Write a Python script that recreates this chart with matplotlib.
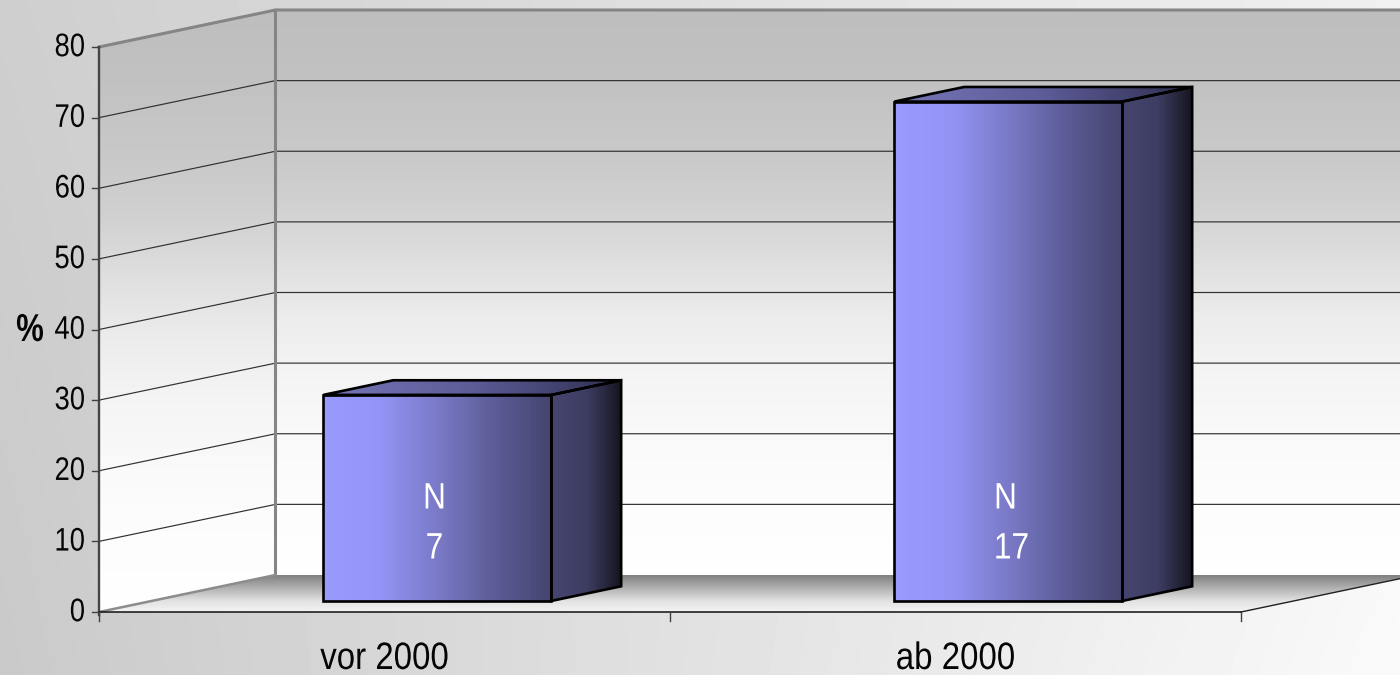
import numpy as np
import matplotlib
matplotlib.use("Agg")
import matplotlib.pyplot as plt
from matplotlib.colors import LinearSegmentedColormap as LSC
from matplotlib.patches import Polygon
from matplotlib.patheffects import AbstractPathEffect
from matplotlib.transforms import Affine2D

categories = ["vor 2000", "ab 2000"]
values = [29.17, 70.7]
n_labels = ["7", "17"]
y_ticks = [0, 10, 20, 30, 40, 50, 60, 70, 80]

plt.rcParams["font.family"] = ["Liberation Sans", "DejaVu Sans"]

W, H = 1400, 675
PX_Y = (612 - 47) / 80      # pixels per percent
PX_X = 571                  # pixels per category
X0, Y0 = 99, 612            # pixel of the origin
fig = plt.figure(figsize=(W / 100, H / 100), dpi=100)
ax = fig.add_axes([0, 0, 1, 1])
ax.set_axis_off()
xlim = (-X0 / PX_X, (W - X0) / PX_X)
ylim = ((Y0 - H) / PX_Y, Y0 / PX_Y)
ax.set_xlim(*xlim)
ax.set_ylim(*ylim)
ax.set_autoscale_on(False)

DX, DY = 176.5 / PX_X, 37 / PX_Y   # depth offset in data units
NC = len(categories)


class Narrow(AbstractPathEffect):
    """Squeeze a text horizontally about the x pixel cx."""
    def __init__(self, cx, factor):
        super().__init__()
        self.cx, self.factor = cx, factor

    def draw_path(self, renderer, gc, tpath, affine, rgbFace=None):
        a = affine + Affine2D().translate(-self.cx, 0).scale(self.factor, 1).translate(self.cx, 0)
        renderer.draw_path(gc, tpath, a, rgbFace)


def label(x, y, s, factor, **kw):
    t = ax.text(x, y, s, **kw)
    cx = ax.transData.transform((x, y))[0]
    t.set_path_effects([Narrow(cx, factor)])
    return t


def dep(x, y, d):
    return (x + d * DX, y + d * DY)


def grad(colors, extent, poly, horizontal, z):
    cm = LSC.from_list("g", colors, N=512)
    t = np.linspace(0, 1, 512)
    arr = t[None, :] if horizontal else t[:, None]
    im = ax.imshow(arr, cmap=cm, vmin=0, vmax=1, extent=extent, origin="lower",
                   aspect="auto", interpolation="bilinear", zorder=z)
    p = Polygon(poly, closed=True, transform=ax.transData, fc="none", ec="none")
    ax.add_patch(p)
    im.set_clip_path(p)


# figure background
XX, YY = np.meshgrid(np.linspace(0, 1, 400), np.linspace(0, 1, 200))
shade = (0.79 + 0.19 * XX) * (1 - YY) + (0.81 + 0.13 * XX) * YY
ax.imshow(shade, cmap="gray", vmin=0, vmax=1, extent=(*xlim, *ylim), origin="lower",
          aspect="auto", interpolation="bilinear", zorder=0)

top = y_ticks[-1]
# walls
wall_c = [(0, "#ffffff"), (.133, "#fdfdfd"), (.239, "#fafafa"), (.345, "#f5f5f5"),
          (.451, "#ededed"), (.558, "#dfdfdf"), (.664, "#d0d0d0"), (.752, "#c9c9c9"),
          (.876, "#c2c2c2"), (1, "#bebebe")]
left_wall = [dep(0, 0, 0), dep(0, 0, 1), dep(0, top, 1), dep(0, top, 0)]
back_wall = [dep(0, 0, 1), dep(NC, 0, 1), dep(NC, top, 1), dep(0, top, 1)]
grad(wall_c, (xlim[0], xlim[1], 0, top + DY), left_wall, False, 1)
grad(wall_c, (xlim[0], xlim[1], DY, top + DY), back_wall, False, 1)

# floor
floor = [dep(0, 0, 0), dep(NC, 0, 0), dep(NC, 0, 1), dep(0, 0, 1)]
grad([(0, "#f4f4f4"), (.3, "#e2e2e2"), (.7, "#aaaaaa"), (1, "#7f7f7f")],
     (xlim[0], xlim[1], 0, DY), floor, False, 2)

# gridlines
for v in y_ticks[1:-1]:
    a, b, c = dep(0, v, 0), dep(0, v, 1), dep(NC, v, 1)
    ax.plot([a[0], b[0], c[0]], [a[1], b[1], c[1]], color="#303030", lw=0.85, zorder=3,
            solid_joinstyle="miter")

# wall frame
a, b, c, d = dep(0, top, 0), dep(0, top, 1), dep(NC, top, 1), dep(0, 0, 1)
ax.plot([a[0], b[0], c[0]], [a[1], b[1], c[1]], color="#858585", lw=2.2, zorder=4)
ax.plot([b[0], d[0]], [b[1], d[1]], color="#858585", lw=2.2, zorder=4)
e = dep(0, 0, 0)
ax.plot([e[0], d[0]], [e[1], d[1]], color="#8c8c8c", lw=1.8, zorder=4)
f, g = dep(NC, 0, 0), dep(NC, 0, 1)
ax.plot([f[0], g[0]], [f[1], g[1]], color="#202020", lw=1.0, zorder=4)

# axes lines and ticks
ax.plot([0, 0], [-3 / PX_Y, top], color="#454545", lw=1.7, zorder=5)
ax.plot([0, NC], [0, 0], color="#101010", lw=1.1, zorder=5)
for v in y_ticks:
    ax.plot([-7 / PX_X, 0], [v, v], color="#404040", lw=1.0, zorder=5)
    label(-14 / PX_X, v - 0.1, str(v), 0.84, ha="right", va="center", fontsize=23.5,
          color="#050505", zorder=6)
for i in range(NC + 1):
    ax.plot([i, i], [0, -9 / PX_Y], color="#404040", lw=1.0, zorder=5)

# bars
BW = 228 / PX_X
D0, D1 = 0.30, 0.695
for i, (v, cat, n) in enumerate(zip(values, categories, n_labels)):
    xc = i + 0.5
    x0 = xc - BW / 2
    x1 = xc + BW / 2
    p00 = dep(x0, 0, D0); p10 = dep(x1, 0, D0)
    p01 = dep(x0, v, D0); p11 = dep(x1, v, D0)
    q10 = dep(x1, 0, D1); q11 = dep(x1, v, D1); q01 = dep(x0, v, D1)
    z = 10 + i
    grad(["#9a9aff", "#9494f6", "#7a7ac8", "#5c5c98", "#45456f"],
         (p00[0], p10[0], p00[1], p01[1]), [p00, p10, p11, p01], True, z)
    grad(["#45456f", "#3e3e64", "#15151f"],
         (p10[0], q10[0], p10[1], q11[1]), [p10, q10, q11, p11], True, z)
    grad(["#7676b8", "#5c5c98", "#2f2f50"],
         (p01[0], q11[0], p01[1], q11[1]), [p01, p11, q11, q01], True, z)
    for pts in ([p00, p10, p11, p01], [p10, q10, q11, p11], [p01, p11, q11, q01]):
        ax.add_patch(Polygon(pts, closed=True, fc="none", ec="black", lw=1.9,
                             joinstyle="miter", zorder=z + 0.5))
    mid = (p00[0] + p10[0]) / 2
    label(mid - 3 / PX_X, (Y0 - 499) / PX_Y, "N", 0.86, color="white",
          fontsize=26.5, ha="center", va="center", zorder=z + 1)
    label(mid + (6 * (len(n) - 1) - 3) / PX_X, (Y0 - 549) / PX_Y, n, 0.86, color="white",
          fontsize=26.5, ha="center", va="center", zorder=z + 1)
    label(xc, (Y0 - 659) / PX_Y, cat, 0.865, ha="center", va="center", fontsize=27.5,
          color="#050505", zorder=6)

label(-69 / PX_X, (Y0 - 331) / PX_Y, "%", 0.8, ha="center", va="center", fontsize=28,
      fontweight="bold", color="#050505", zorder=6)

fig.savefig("out.png", dpi=100)
